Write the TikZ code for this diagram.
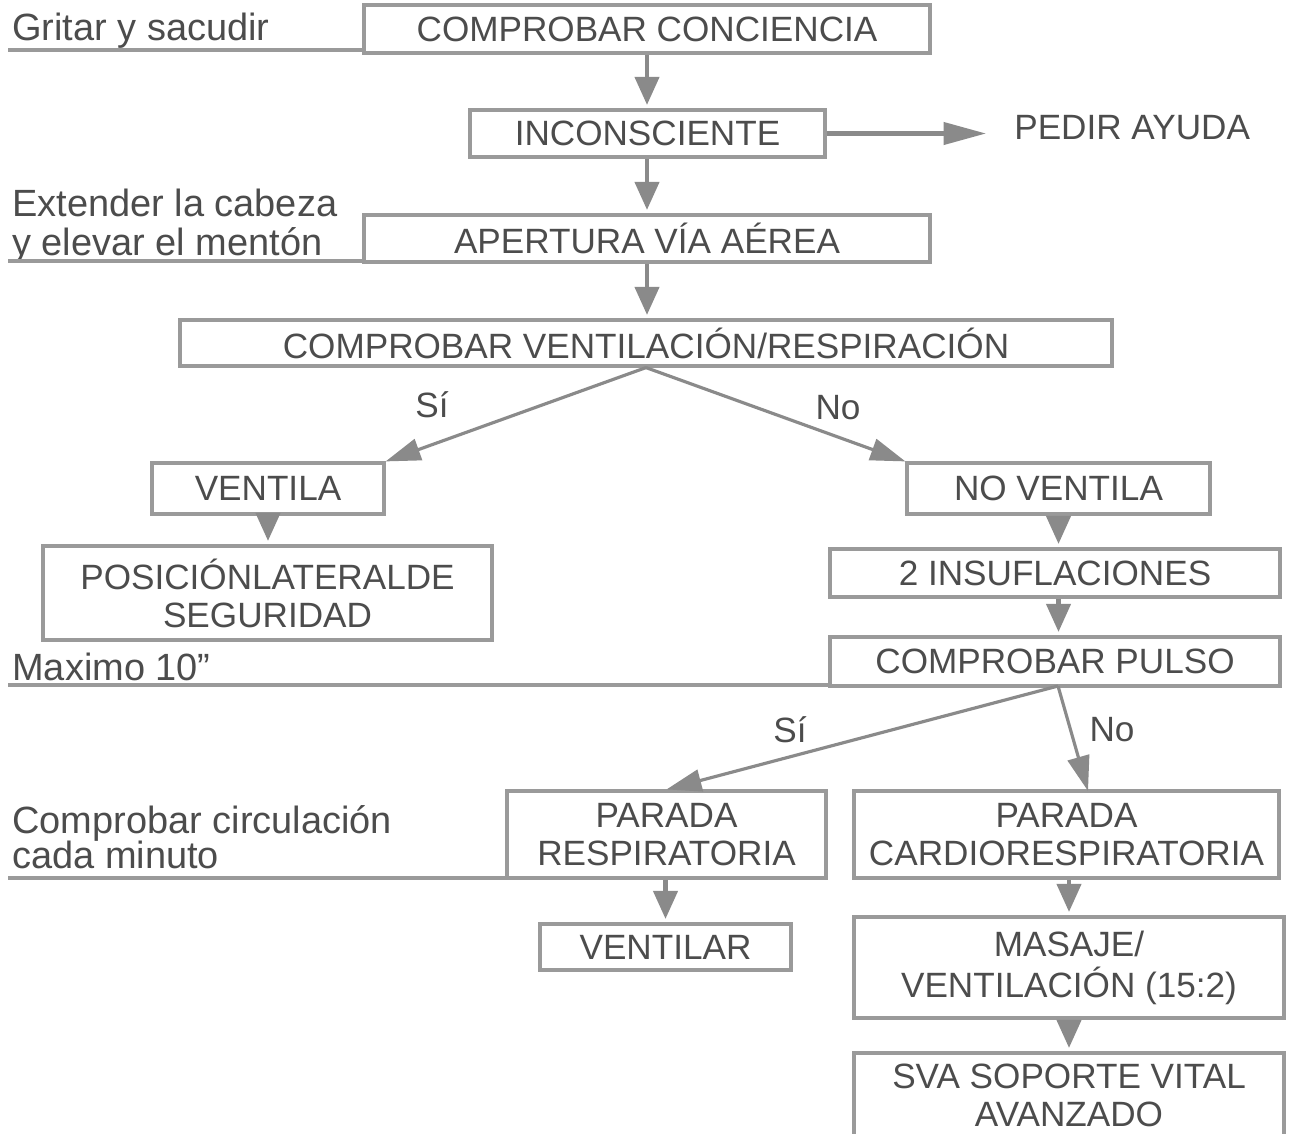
\documentclass[tikz,border=0pt]{standalone}
\usepackage{fontspec}
\setmainfont{Liberation Sans}
\usetikzlibrary{arrows.meta,calc}
\definecolor{boxgray}{HTML}{9A9A9A}
\definecolor{arrgray}{HTML}{8A8A8A}
\definecolor{txtgray}{HTML}{4C4C4C}
\begin{document}
\begin{tikzpicture}[x=0.02cm,y=-0.02cm,
  box/.style={draw=boxgray,line width=1.8pt,inner sep=0pt,align=center,
    text=txtgray,font=\fontsize{20}{21.6}\selectfont},
  wh/.style 2 args={minimum width=#1*0.02cm,minimum height=#2*0.02cm},
  side/.style={anchor=base west,inner sep=0pt,text=txtgray,font=\fontsize{21.6}{22}\selectfont},
  lbl/.style={inner sep=0pt,text=txtgray,font=\fontsize{20}{22}\selectfont},
  uline/.style={draw=boxgray,line width=1.8pt},
  varr/.style={draw=arrgray,line width=2.4pt,-{Triangle[length=0.56cm,width=0.48cm]},shorten >=2pt},
  darr/.style={draw=arrgray,line width=1.8pt,-{Triangle[length=0.7cm,width=0.44cm]}},
  harr/.style={draw=arrgray,line width=2.4pt,-{Triangle[length=0.85cm,width=0.44cm]},shorten >=0.56cm}
]
\clip (0,0) rectangle (1290,1133);
\fill[white] (0,0) rectangle (1290,1133);

% boxes
\node[box,wh={566}{48}] (b1) at (647,29) {COMPROBAR CONCIENCIA};
\node[box,wh={355}{47}] (b2) at (647.5,133.5) {INCONSCIENTE};
\node[box,wh={566}{47}] (b3) at (647,238.5) {APERTURA VÍA AÉREA};
\node[box,wh={932}{46}] (b4) at (646,343) {COMPROBAR VENTILACIÓN/RESPIRACIÓN};
\node[box,wh={232}{51}] (b5) at (268,488.5) {VENTILA};
\node[box,wh={449}{94}] (b6) at (267.5,593) {POSICIÓNLATERALDE\\SEGURIDAD};
\node[box,wh={303}{51}] (b7) at (1058.5,488.5) {NO VENTILA};
\node[box,wh={450}{48}] (b8) at (1055,573) {2 INSUFLACIONES};
\node[box,wh={450}{49}] (b9) at (1055,661.5) {COMPROBAR PULSO};
\node[box,wh={319}{87}] (b10) at (666.5,834.5) {PARADA\\RESPIRATORIA};
\node[box,wh={251}{46}] (b11) at (665.5,947) {VENTILAR};
\node[box,wh={425}{87}] (b12) at (1066.5,834.5) {PARADA\\CARDIORESPIRATORIA};
\node[box,wh={430}{101},font=\fontsize{20}{23.3}\selectfont] (b13) at (1069,967.5) {MASAJE/\\VENTILACIÓN (15:2)};
\node[box,wh={430}{85}] (b14) at (1069,1095.5) {SVA SOPORTE VITAL\\AVANZADO};

% side notes
\node[side] (s1) at (12,40) {Gritar y sacudir};
\node[side] (s2a) at (12,216) {Extender la cabeza};
\node[side] (s2b) at (12,255) {y elevar el mentón};
\node[side] (s3) at (12,680) {Maximo 10''};
\node[side] (s4a) at (12,833) {Comprobar circulación};
\node[side] (s4b) at (12,868) {cada minuto};

\coordinate (u1) at (8,50);
\coordinate (u2) at (8,261);
\coordinate (u3) at (8,685);
\coordinate (u4) at (8,878);
\draw[uline] (u1) -- (u1 -| b1.west);
\draw[uline] (u2) -- (u2 -| b3.west);
\draw[uline] (u3) -- (u3 -| b9.west);
\draw[uline] (u4) -- (u4 -| b10.west);

\node[lbl,anchor=base west] (pedir) at (1014,139) {PEDIR AYUDA};

% labels
\node[lbl] (si1) at (432,405) {Sí};
\node[lbl] (no1) at (838,408) {No};
\node[lbl] (si2) at (790,730) {Sí};
\node[lbl] (no2) at (1112,730) {No};

% connectors
\draw[varr] (b1.south) -- (b1.south |- b2.north);
\draw[varr] (b1.south |- b2.south) -- (b1.south |- b3.north);
\draw[varr] (b1.south |- b3.south) -- (b1.south |- b4.north);
\draw[harr] (b2.east) -- (b2.east -| pedir.west);
\draw[darr] (b4.south) -- (b5.north east);
\draw[darr] (b4.south) -- (b7.north west);
\draw[varr] (b5.south) -- (b5.south |- b6.north);
\draw[varr] (b7.south) -- (b7.south |- b8.north);
\draw[varr] (b7.south |- b8.south) -- (b7.south |- b9.north);
\coordinate (ps) at (1058,686);
\coordinate (noend) at (1088,791);
\draw[darr] (ps) -- (b10.north);
\draw[darr] (ps) -- (noend);
\draw[varr] (b11.north |- b10.south) -- (b11.north);
\draw[varr] (b13.north |- b12.south) -- (b13.north);
\draw[varr] (b13.south) -- (b14.north);
\end{tikzpicture}
\end{document}
